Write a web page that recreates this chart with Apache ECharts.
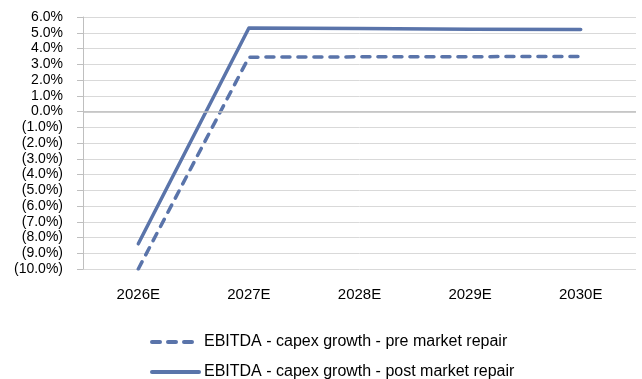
<!DOCTYPE html>
<html>
<head>
<meta charset="utf-8">
<script src="https://cdn.jsdelivr.net/npm/echarts@6/dist/echarts.min.js"></script>
<style>
  html, body { margin: 0; padding: 0; background: #fff; }
  #chart { width: 642px; height: 379px; }
</style>
</head>
<body>
<div id="chart"></div>
<script>
// Forecast years on the category axis
const years = ['2026E', '2027E', '2028E', '2029E', '2030E'];

// EBITDA - capex growth, in percent
const preRepair = [-10.0, 3.45, 3.47, 3.48, 3.5];
const postRepair = [-8.4, 5.3, 5.27, 5.23, 5.2];

const seriesNames = [
  'EBITDA - capex growth - pre market repair',
  'EBITDA - capex growth - post market repair'
];

const lineColor = '#5A74AA';
const fontFamily = 'Liberation Sans, Arial, sans-serif';

// Negative values are shown in parentheses, accounting style
function pctLabel(v) {
  const s = Math.abs(v).toFixed(1) + '%';
  return v < 0 ? '(' + s + ')' : s;
}

const chart = echarts.init(document.getElementById('chart'));
chart.setOption({
  animation: false,
  grid: { left: 83, right: 6, top: 17, bottom: 110, containLabel: false },
  legend: {
    orient: 'vertical',
    left: 150,
    top: 334,
    height: 60,
    padding: 0,
    itemGap: 14,
    itemWidth: 47,
    itemHeight: 16,
    textStyle: { fontSize: 16, color: '#000', fontFamily: fontFamily },
    // line-only legend keys, no marker dot
    itemStyle: { opacity: 0 },
    lineStyle: { width: 4, cap: 'round' },
    data: seriesNames
  },
  xAxis: {
    type: 'category',
    data: years,
    boundaryGap: true,
    axisLine: { show: false },
    axisTick: { show: false },
    axisLabel: { fontSize: 15, color: '#000', fontFamily: fontFamily, margin: 18 }
  },
  yAxis: {
    type: 'value',
    min: -10,
    max: 6,
    interval: 1,
    axisLine: { show: true, lineStyle: { color: '#bfbfbf', width: 1 } },
    axisTick: { show: true, length: 6, lineStyle: { color: '#bfbfbf' } },
    splitLine: { show: true, lineStyle: { color: '#d9d9d9', width: 1 } },
    axisLabel: {
      fontSize: 14,
      color: '#000',
      fontFamily: fontFamily,
      margin: 20,
      formatter: pctLabel
    }
  },
  series: [
    {
      name: seriesNames[0],
      type: 'line',
      data: preRepair,
      symbol: 'none',
      lineStyle: { color: lineColor, width: 3.5, type: [8, 8], cap: 'round', join: 'round' },
      itemStyle: { color: lineColor }
    },
    {
      name: seriesNames[1],
      type: 'line',
      data: postRepair,
      symbol: 'none',
      lineStyle: { color: lineColor, width: 3.5, type: 'solid', cap: 'round', join: 'round' },
      itemStyle: { color: lineColor },
      markLine: {
        silent: true,
        symbol: 'none',
        label: { show: false },
        lineStyle: { color: '#bfbfbf', width: 1.5, type: 'solid' },
        data: [{ yAxis: 0 }]
      }
    }
  ]
});
</script>
</body>
</html>
